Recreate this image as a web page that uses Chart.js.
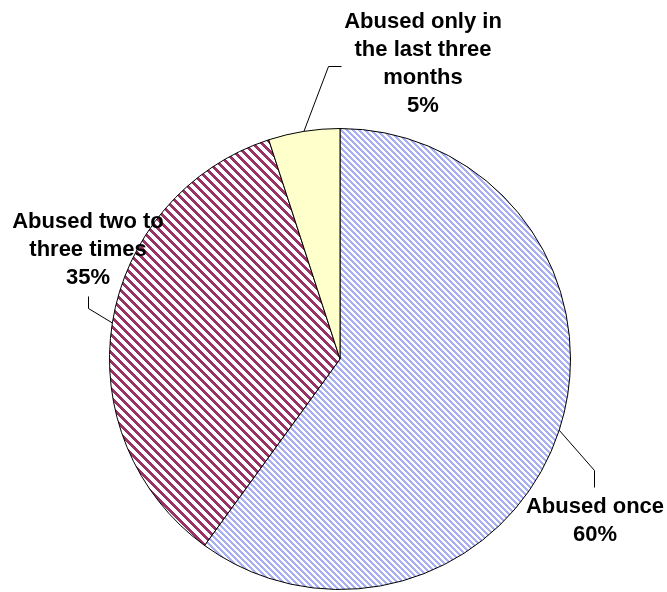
<!DOCTYPE html>
<html lang="en">
<head>
  <meta charset="UTF-8" />
  <title>Abuse frequency</title>
  <script src="https://cdn.jsdelivr.net/npm/chart.js"></script>
  <style>
    body { margin: 0; background: #fff; }
    .wrap { width: 667px; height: 592px; position: relative; }
  </style>
</head>
<body>
  <div class="wrap"><canvas id="pie"></canvas></div>

  <script>
    // data
    const categories = ["Abused once", "Abused two to three times", "Abused only in the last three months"];
    const shares = [60, 35, 5];
    const labelLines = [
      ["Abused once", "60%"],
      ["Abused two to", "three times", "35%"],
      ["Abused only in", "the last three", "months", "5%"]
    ];

    // where each label sits and how its leader line bends (canvas px)
    const labelLayout = [
      { x: 595, y: 507, bend: [[594, 470], [594, 487]] },
      { x: 88, y: 222, bend: [[88, 308], [88, 296]] },
      { x: 423, y: 22, bend: [[328, 66], [341, 66]] }
    ];

    // diagonal hatch tile, drawn pixel by pixel so it stays crisp
    function hatch(color, period, width) {
      const c = document.createElement("canvas");
      c.width = period; c.height = period;
      const g = c.getContext("2d");
      g.fillStyle = "#fff";
      g.fillRect(0, 0, period, period);
      g.fillStyle = color;
      for (let y = 0; y < period; y++) {
        for (let x = 0; x < period; x++) {
          if (((x - y) % period + period) % period < width) g.fillRect(x, y, 1, 1);
        }
      }
      return g.createPattern(c, "repeat");
    }

    const ctx = document.getElementById("pie").getContext("2d");
    const fills = [hatch("#a9aff3", 6, 3), hatch("#993366", 9, 4), "#ffffcc"];

    const labelPlugin = {
      id: "sliceLabels",
      afterDatasetsDraw(chart) {
        const g = chart.ctx;
        const arcs = chart.getDatasetMeta(0).data;
        g.save();
        arcs.forEach((arc, i) => {
          const mid = (arc.startAngle + arc.endAngle) / 2;
          const r = arc.outerRadius;
          const lay = labelLayout[i];
          g.strokeStyle = "#000";
          g.lineWidth = 1;
          g.beginPath();
          g.moveTo(arc.x + Math.cos(mid) * r, arc.y + Math.sin(mid) * r);
          lay.bend.forEach(p => g.lineTo(p[0] + 0.5, p[1] + 0.5));
          g.stroke();

          g.fillStyle = "#000";
          g.font = "bold 22px 'Liberation Sans', Arial, sans-serif";
          g.textAlign = "center";
          g.textBaseline = "middle";
          labelLines[i].forEach((t, k) => g.fillText(t, lay.x, lay.y + k * 28));
        });
        g.restore();
      }
    };

    new Chart(ctx, {
      type: "pie",
      data: {
        labels: categories,
        datasets: [{
          data: shares,
          backgroundColor: fills,
          borderColor: "#000",
          borderWidth: 1
        }]
      },
      options: {
        responsive: true,
        maintainAspectRatio: false,
        animation: false,
        layout: { padding: { left: 109, right: 96, top: 128, bottom: 2 } },
        plugins: {
          legend: { display: false },
          tooltip: { enabled: false }
        }
      },
      plugins: [labelPlugin]
    });
  </script>
</body>
</html>
